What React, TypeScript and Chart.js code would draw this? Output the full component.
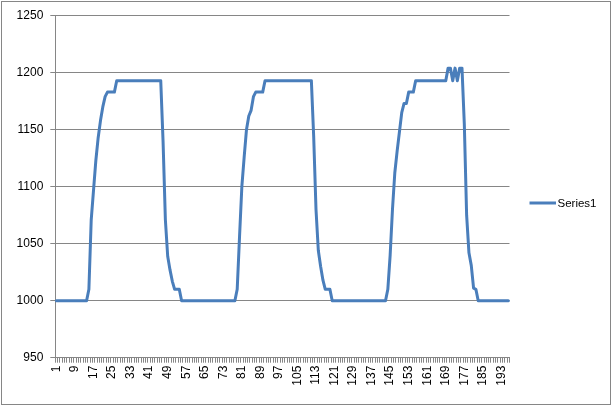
import React, { useEffect, useRef } from "react";
import { Chart, registerables } from "chart.js";

Chart.register(...registerables);

// Category axis: points 1..196 (index labels)
const categoryCount = 196;
const categories: string[] = Array.from({ length: categoryCount }, (_, i) => String(i + 1));
const labelEvery = 8;

// Y axis range
const yMin = 950;
const yMax = 1250;
const yStep = 50;

const seriesName = "Series1";
const series1: number[] = [
  // 1-14
  1000, 1000, 1000, 1000, 1000, 1000, 1000, 1000, 1000, 1000, 1000, 1000, 1000, 1000,
  // 15-26
  1010, 1071, 1097, 1123, 1143, 1158, 1170, 1179, 1183, 1183, 1183, 1183,
  // 27-46
  1193, 1193, 1193, 1193, 1193, 1193, 1193, 1193, 1193, 1193,
  1193, 1193, 1193, 1193, 1193, 1193, 1193, 1193, 1193, 1193,
  // 47-54
  1140, 1071, 1039, 1027, 1017, 1010, 1010, 1010,
  // 55-78
  1000, 1000, 1000, 1000, 1000, 1000, 1000, 1000, 1000, 1000, 1000, 1000,
  1000, 1000, 1000, 1000, 1000, 1000, 1000, 1000, 1000, 1000, 1000, 1000,
  // 79-90
  1010, 1056, 1100, 1126, 1150, 1162, 1167, 1179, 1183, 1183, 1183, 1183,
  // 91-111
  1193, 1193, 1193, 1193, 1193, 1193, 1193, 1193, 1193, 1193, 1193,
  1193, 1193, 1193, 1193, 1193, 1193, 1193, 1193, 1193, 1193,
  // 112-119
  1144, 1080, 1044, 1030, 1018, 1010, 1010, 1010,
  // 120-143
  1000, 1000, 1000, 1000, 1000, 1000, 1000, 1000, 1000, 1000, 1000, 1000,
  1000, 1000, 1000, 1000, 1000, 1000, 1000, 1000, 1000, 1000, 1000, 1000,
  // 144-155
  1010, 1040, 1080, 1112, 1131, 1148, 1165, 1173, 1173, 1183, 1183, 1183,
  // 156-169
  1193, 1193, 1193, 1193, 1193, 1193, 1193, 1193, 1193, 1193, 1193, 1193, 1193, 1193,
  // 170-182
  1204, 1204, 1193, 1204, 1193, 1204, 1204, 1155, 1075, 1042, 1031, 1011, 1010,
  // 183-196
  1000, 1000, 1000, 1000, 1000, 1000, 1000, 1000, 1000, 1000, 1000, 1000, 1000, 1000,
];

const LINE_COLOR = "#4A7EBB";
const GRID_COLOR = "#868686";
const FONT = "'Liberation Sans', Arial, sans-serif";

const W = 613;
const H = 407;
const AREA_LEFT = 55.3;
const AREA_RIGHT = 509.5;
const AREA_TOP = 15.7;
const AREA_BOTTOM = 357.7;

const framePlugin = {
  id: "frameAndLegend",
  beforeDraw(chart: any) {
    const ctx = chart.ctx;
    ctx.save();
    ctx.fillStyle = "#ffffff";
    ctx.fillRect(0, 0, chart.width, chart.height);
    ctx.strokeStyle = GRID_COLOR;
    ctx.lineWidth = 1;
    ctx.strokeRect(1.5, 1.5, chart.width - 4, chart.height - 4);
    ctx.restore();
  },
  afterDraw(chart: any) {
    const ctx = chart.ctx;
    const ds = chart.data.datasets[0];
    const y = 203;
    ctx.save();
    ctx.strokeStyle = ds.borderColor;
    ctx.lineWidth = 3;
    ctx.beginPath();
    ctx.moveTo(529.5, y);
    ctx.lineTo(556, y);
    ctx.stroke();
    ctx.fillStyle = "#000000";
    ctx.font = `11.5px ${FONT}`;
    ctx.textAlign = "left";
    ctx.textBaseline = "middle";
    ctx.fillText(ds.label, 557.5, y + 0.5);
    ctx.restore();
  },
};

export default function App() {
  const ref = useRef<HTMLCanvasElement>(null);

  useEffect(() => {
    const canvas = ref.current;
    if (!canvas) return;
    const chart = new Chart(canvas, {
      type: "line",
      data: {
        labels: categories,
        datasets: [
          {
            label: seriesName,
            data: series1,
            borderColor: LINE_COLOR,
            backgroundColor: LINE_COLOR,
            borderWidth: 3,
            pointRadius: 0,
            pointHoverRadius: 0,
            tension: 0,
            fill: false,
            borderJoinStyle: "round",
            borderCapStyle: "round",
          },
        ],
      },
      options: {
        animation: false,
        responsive: false,
        maintainAspectRatio: false,
        devicePixelRatio: 1,
        layout: {
          padding: { left: 0, top: AREA_TOP, right: W - AREA_RIGHT, bottom: 0 },
        },
        plugins: {
          legend: { display: false },
          tooltip: { enabled: false },
          title: { display: false },
        },
        scales: {
          x: {
            type: "category",
            offset: true,
            afterFit: (s: any) => {
              s.height = H - AREA_BOTTOM;
            },
            border: { display: true, color: GRID_COLOR, width: 1 },
            grid: {
              display: true,
              drawOnChartArea: false,
              drawTicks: true,
              tickLength: 5,
              offset: true,
              color: GRID_COLOR,
              tickColor: GRID_COLOR,
            },
            ticks: {
              autoSkip: false,
              minRotation: 90,
              maxRotation: 90,
              padding: 3,
              color: "#000000",
              font: { family: FONT, size: 12 },
              callback: (_v: any, i: number) => (i % labelEvery === 0 ? categories[i] : ""),
            },
          },
          y: {
            type: "linear",
            min: yMin,
            max: yMax,
            afterFit: (s: any) => {
              s.width = AREA_LEFT;
            },
            border: { display: true, color: GRID_COLOR, width: 1 },
            grid: {
              display: true,
              drawTicks: true,
              tickLength: 5,
              color: GRID_COLOR,
              tickColor: GRID_COLOR,
            },
            ticks: {
              stepSize: yStep,
              padding: 7,
              color: "#000000",
              font: { family: FONT, size: 12 },
              callback: (v: any) => String(v),
            },
          },
        },
      },
      plugins: [framePlugin],
    } as any);
    return () => chart.destroy();
  }, []);

  return (
    <div style={{ position: "fixed", left: 0, top: 0, width: W, height: H, background: "#fff" }}>
      <canvas ref={ref} width={W} height={H} style={{ display: "block", width: W, height: H }} />
    </div>
  );
}
